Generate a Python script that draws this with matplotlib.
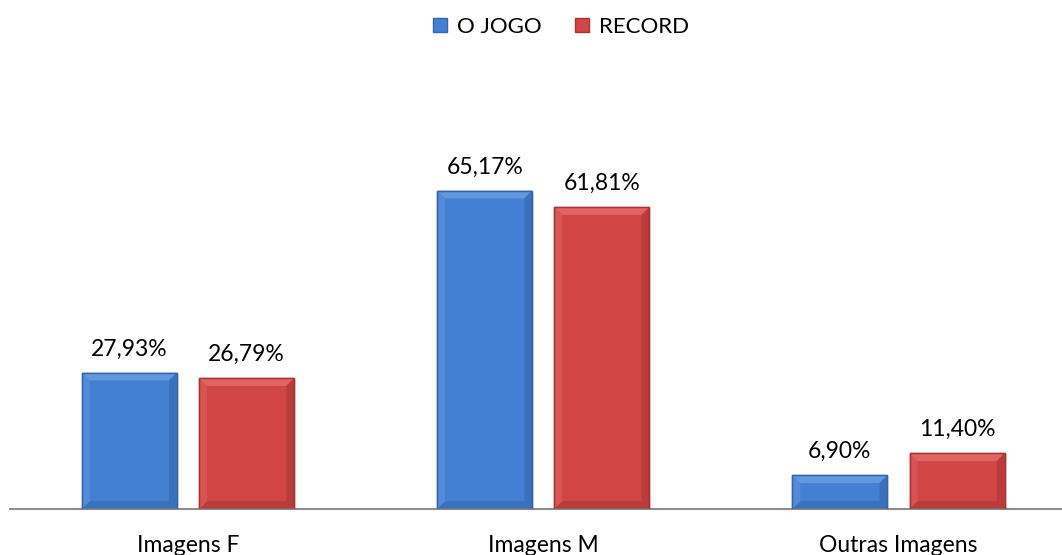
import matplotlib.pyplot as plt
import numpy as np
from matplotlib.patches import Polygon

categories = ['Imagens F', 'Imagens M', 'Outras Imagens']
o_jogo = [27.93, 65.17, 6.90]
record = [26.79, 61.81, 11.40]
series_names = ['O JOGO', 'RECORD']

plt.rcParams['font.family'] = ['Lato', 'DejaVu Sans']

fig = plt.figure(figsize=(10.62, 5.55), dpi=100)
ax = fig.add_axes([10.4 / 1062, 46 / 555, 1065.75 / 1062, 342 / 555])

x = np.arange(len(categories))
width = 0.267
off = 0.165

colors = [('#4380d3', '#3565a8', '#7aa7e6', '#2c5590'),
          ('#d24545', '#a83434', '#e87a7a', '#8c2a2a')]


def bevel(ax, bars, base, edge, light, dark):
    bx = 0.022
    by = 1.6
    for b in bars:
        x0, w, h = b.get_x(), b.get_width(), b.get_height()
        x1 = x0 + w
        dy = min(by, h / 2.5)
        # top light strip
        ax.add_patch(Polygon([(x0, h), (x1, h), (x1 - bx, h - dy), (x0 + bx, h - dy)],
                             closed=True, facecolor=light, edgecolor='none', alpha=0.6, zorder=3))
        # right dark strip
        ax.add_patch(Polygon([(x1, h), (x1, 0), (x1 - bx, dy), (x1 - bx, h - dy)],
                             closed=True, facecolor=dark, edgecolor='none', alpha=0.35, zorder=3))
        # bottom dark strip
        ax.add_patch(Polygon([(x0, 0), (x1, 0), (x1 - bx, dy), (x0 + bx, dy)],
                             closed=True, facecolor=dark, edgecolor='none', alpha=0.35, zorder=3))
        # left light strip
        ax.add_patch(Polygon([(x0, 0), (x0, h), (x0 + bx, h - dy), (x0 + bx, dy)],
                             closed=True, facecolor=light, edgecolor='none', alpha=0.3, zorder=3))
        # outline
        ax.add_patch(plt.Rectangle((x0, 0), w, h, facecolor='none', edgecolor=edge,
                                   linewidth=1.0, zorder=4))


for vals, pos, name, c in [(o_jogo, x - off, series_names[0], colors[0]),
                           (record, x + off, series_names[1], colors[1])]:
    bars = ax.bar(pos, vals, width, color=c[0], edgecolor=c[1], label=name, zorder=2)
    bevel(ax, bars, *c)
    for xp, v in zip(pos, vals):
        ax.text(xp, v + 3.5, ('%.2f' % v).replace('.', ',') + '%', ha='center', va='baseline',
                fontsize=16.5, color='#000000')

ax.set_xlim(-0.5, 2.5)
ax.set_ylim(0, 70)
ax.set_xticks(x)
ax.set_xticklabels(categories, fontsize=16.5)
ax.tick_params(axis='x', length=0, pad=19)
ax.set_yticks([])
for s in ['top', 'right', 'left']:
    ax.spines[s].set_visible(False)
ax.spines['bottom'].set_color('#8c8c8c')
ax.spines['bottom'].set_linewidth(1.5)

fig.legend(loc='center', bbox_to_anchor=(561 / 1062, 1 - 27 / 555), ncol=2, frameon=False,
           fontsize=16, handlelength=0.62, handleheight=0.62, handletextpad=0.45,
           columnspacing=1.5)

plt.savefig('out.png', dpi=100)
